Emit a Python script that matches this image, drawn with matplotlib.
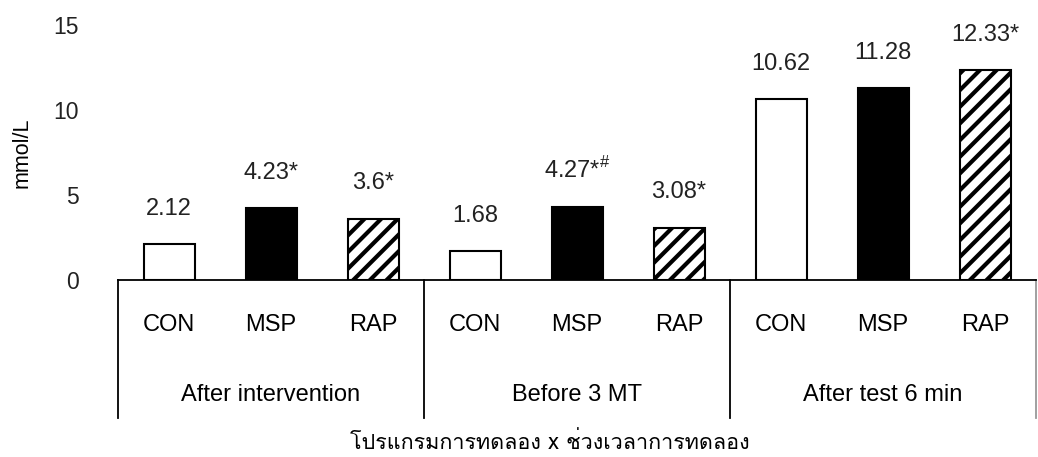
import matplotlib
matplotlib.use('Agg')
import matplotlib.pyplot as plt
from matplotlib import font_manager
from matplotlib.ft2font import FT2Font


groups = ['After intervention', 'Before 3 MT', 'After test 6 min']
programs = ['CON', 'MSP', 'RAP']
values = [2.12, 4.23, 3.6, 1.68, 4.27, 3.08, 10.62, 11.28, 12.33]
labels = ['2.12', '4.23*', '3.6*', '1.68', '4.27*$^{\\#}$', '3.08*', '10.62', '11.28', '12.33*']
y_ticks = [0, 5, 10, 15]
y_title = 'mmol/L'
x_title = 'โปรแกรมการทดลอง x ช่วงเวลาการทดลอง'


def find_thai_font():
    # pick the first installed font that has Thai glyphs
    for f in font_manager.fontManager.ttflist:
        try:
            if ord('ก') in FT2Font(f.fname).get_charmap():
                return f.name
        except Exception:
            continue
    return 'DejaVu Sans'


plt.rcParams['font.family'] = ['Liberation Sans', 'DejaVu Sans']
plt.rcParams['hatch.linewidth'] = 3.0
plt.rcParams['mathtext.fontset'] = 'custom'
plt.rcParams['mathtext.rm'] = 'Liberation Sans'

fig = plt.figure(figsize=(10.38, 4.57), dpi=100)
ax = fig.add_axes([118 / 1038, 177 / 457, 918 / 1038, 255 / 457])

styles = [dict(color='white', hatch=None), dict(color='black', hatch=None), dict(color='white', hatch='//')]
x = list(range(len(values)))
for i, v in enumerate(values):
    s = styles[i % 3]
    ax.bar(x[i], v, width=0.5, facecolor=s['color'], edgecolor='black', linewidth=1.5, hatch=s['hatch'], zorder=2)
    ax.annotate(labels[i], (x[i], v), xytext=(0, 17.5), textcoords='offset points',
                ha='center', va='bottom', fontsize=17, color='#222222')

ax.set_xlim(-0.5, len(values) - 0.5)
ax.set_ylim(0, 15)
ax.set_yticks(y_ticks)
ax.tick_params(axis='y', length=0, pad=28, labelsize=16.5, labelcolor='#222222')
ax.tick_params(axis='x', length=0)
ax.set_xticks([])
for side in ['top', 'right', 'left']:
    ax.spines[side].set_visible(False)
ax.spines['bottom'].set_linewidth(1.3)
ax.spines['bottom'].set_zorder(3)

ax.set_ylabel(y_title, fontsize=15.5)
ax.yaxis.set_label_coords((33 - 118) / 918, 0.5)

# two-level category axis
for i in x:
    ax.text(x[i], -0.177, programs[i % 3], transform=ax.get_xaxis_transform(),
            ha='center', va='center', fontsize=17)
for g, name in enumerate(groups):
    ax.text(g * 3 + 1, -0.451, name, transform=ax.get_xaxis_transform(),
            ha='center', va='center', fontsize=17)
for k, xb in enumerate([-0.5, 2.5, 5.5, 8.5]):
    col = '#999999' if k == 3 else 'black'
    ax.plot([xb, xb], [0, -0.54], transform=ax.get_xaxis_transform(),
            color=col, linewidth=1.3, clip_on=False)

fig.text(550 / 1038, 14 / 457, x_title, ha='center', va='center', fontsize=15.5,
         family=[find_thai_font(), 'DejaVu Sans'])

fig.savefig('out.png', dpi=100)
